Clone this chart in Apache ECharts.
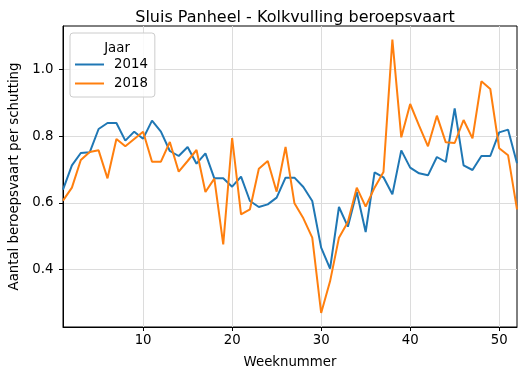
<!DOCTYPE html>
<html>
<head>
<meta charset="utf-8">
<script src="https://cdn.jsdelivr.net/npm/echarts@6/dist/echarts.min.js"></script>
<style>
  html, body { margin: 0; padding: 0; background: #fff; }
  #chart { width: 519px; height: 374px; }
</style>
</head>
<body>
<div id="chart"></div>
<script>
// Weekly average number of commercial vessels per lock cycle, Sluis Panheel
const weeks = Array.from({ length: 52 }, (_, i) => i + 1);

const kolk2014 = [
  0.640, 0.713, 0.750, 0.752, 0.822, 0.840, 0.840, 0.787, 0.814, 0.793,
  0.847, 0.814, 0.756, 0.741, 0.768, 0.718, 0.749, 0.674, 0.674, 0.649,
  0.679, 0.606, 0.588, 0.596, 0.616, 0.676, 0.676, 0.648, 0.606, 0.466,
  0.403, 0.588, 0.529, 0.633, 0.513, 0.692, 0.677, 0.626, 0.758, 0.706,
  0.689, 0.683, 0.738, 0.723, 0.884, 0.713, 0.699, 0.741, 0.741, 0.812,
  0.820, 0.719
];

const kolk2018 = [
  0.607, 0.646, 0.729, 0.753, 0.758, 0.674, 0.792, 0.770, 0.792, 0.814,
  0.724, 0.724, 0.783, 0.694, 0.726, 0.759, 0.633, 0.673, 0.476, 0.795,
  0.566, 0.581, 0.703, 0.726, 0.634, 0.768, 0.599, 0.554, 0.496, 0.270,
  0.365, 0.496, 0.543, 0.646, 0.589, 0.646, 0.693, 1.090, 0.797, 0.897,
  0.832, 0.770, 0.862, 0.782, 0.780, 0.849, 0.794, 0.965, 0.942, 0.764,
  0.743, 0.581
];

const xTicks = [10, 20, 30, 40, 50];
const yTicks = [0.4, 0.6, 0.8, 1.0];
const seriesNames = ['2014', '2018'];
const legendTitle = 'Jaar';

const chart = echarts.init(document.getElementById('chart'), null, { renderer: 'canvas' });

const font = 'DejaVu Sans';
const gridColor = '#dcdcdc';

chart.setOption({
  animation: false,
  backgroundColor: '#ffffff',
  textStyle: { fontFamily: font },
  title: [
    {
      text: 'Sluis Panheel - Kolkvulling beroepsvaart',
      left: 290, top: 5, textAlign: 'center',
      textStyle: { fontFamily: font, fontSize: 16, fontWeight: 'normal', color: '#000' }
    },
    {
      text: legendTitle,
      left: 112, top: 37, textAlign: 'center', z: 10,
      textStyle: { fontFamily: font, fontSize: 13.3, fontWeight: 'normal', color: '#000' }
    }
  ],
  grid: {
    left: 63, right: 2, top: 26, bottom: 47,
    show: true, borderColor: '#000', borderWidth: 1
  },
  legend: {
    orient: 'vertical',
    left: 70, top: 33,
    padding: [25, 7, 7, 5],
    itemGap: 6,
    itemWidth: 29, itemHeight: 2,
    icon: 'rect',
    backgroundColor: 'rgba(255,255,255,0.85)',
    borderColor: '#cccccc', borderWidth: 1, borderRadius: 3,
    textStyle: { fontFamily: font, fontSize: 13.3, color: '#000', padding: [0, 0, 0, 5] },
    data: seriesNames
  },
  xAxis: {
    type: 'value', min: 1, max: 52,
    name: 'Weeknummer', nameLocation: 'middle', nameGap: 29,
    nameTextStyle: { fontFamily: font, fontSize: 13.3, color: '#000' },
    axisLine: { show: true, lineStyle: { color: '#000', width: 1 } },
    axisTick: { show: true, length: 4, customValues: xTicks, lineStyle: { color: '#000' } },
    axisLabel: { customValues: xTicks, fontFamily: font, fontSize: 13.3, color: '#000', margin: 7 },
    splitLine: { show: true, lineStyle: { color: gridColor, width: 1 } }
  },
  yAxis: {
    type: 'value', min: 0.228, max: 1.131,
    name: 'Aantal beroepsvaart per schutting', nameLocation: 'middle', nameGap: 38,
    nameTextStyle: { fontFamily: font, fontSize: 13.3, color: '#000' },
    axisLine: { show: true, lineStyle: { color: '#000', width: 1 } },
    axisTick: { show: true, length: 4, customValues: yTicks, lineStyle: { color: '#000' } },
    axisLabel: {
      customValues: yTicks, fontFamily: font, fontSize: 13.3, color: '#000', margin: 9.5,
      formatter: v => v.toFixed(1)
    },
    splitLine: { show: true, lineStyle: { color: gridColor, width: 1 } }
  },
  series: [
    {
      name: seriesNames[0], type: 'line', showSymbol: false,
      data: weeks.map((w, i) => [w, kolk2014[i]]),
      lineStyle: { color: '#1f77b4', width: 2 }, itemStyle: { color: '#1f77b4' }
    },
    {
      name: seriesNames[1], type: 'line', showSymbol: false,
      data: weeks.map((w, i) => [w, kolk2018[i]]),
      lineStyle: { color: '#ff7f0e', width: 2 }, itemStyle: { color: '#ff7f0e' }
    }
  ]
});
</script>
</body>
</html>
